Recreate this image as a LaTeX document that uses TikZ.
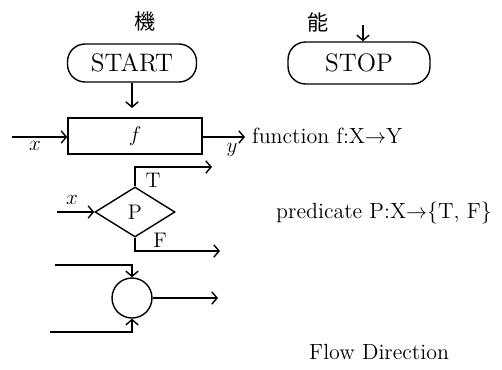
\documentclass[tikz,border=0pt]{standalone}
\usepackage{fontspec}
\usetikzlibrary{arrows.meta,positioning,shapes.geometric}
\newfontfamily\cjk{Noto Sans CJK JP}
\tikzset{term/.style={draw,thick,rounded corners=10pt,minimum height=0.76cm,font=\Large},
fbox/.style={draw,thick,minimum width=2.68cm,minimum height=0.72cm},
arr/.style={thick,->,>={Straight Barb[length=3pt,width=7pt]}},
lbl/.style={font=\large},
txt/.style={anchor=west,font=\fontsize{12.5}{14}\selectfont}}
\begin{document}
\begin{tikzpicture}[x=0.02cm,y=-0.02cm]
\useasboundingbox(0,0)rectangle(502,369);
\node[font=\cjk\large](ki)at(145,22){機};\node[font=\cjk\large](no)at(318,22){能};
% terminals
\node[term,minimum width=2.58cm](start)at(132,63){START};
\node[term,minimum width=2.84cm,minimum height=0.84cm](stop)at(359,63){STOP};
\coordinate(sdown)at(132,108);\coordinate(sin)at(363,25);
\draw[arr](start)--(sdown);\draw[arr](sin)--(sin|-stop.north);
% function box
\node[fbox,lbl](f)at(135,136){$f$};
\coordinate(fin)at(12,137);\coordinate(fout)at(245,137);
\draw[arr](fin)--(fin-|f.west);\draw[arr](fout-|f.east)--(fout);
\node[lbl](fx)at(35,146){$x$};\node[lbl](fy)at(232,150){$y$};
% predicate
\node[draw,thick,diamond,inner sep=0pt,minimum width=1.6cm,minimum height=1cm,lbl](p)at(135,212){P};
\coordinate(pin)at(57,212);\coordinate(pt)at(212,167);\coordinate(pf)at(220,251);
\draw[arr](pin)--(p.west);\draw[arr](p.north)|-(pt);\draw[arr](p.south)|-(pf);
\node[lbl](px)at(72,200){$x$};\node[lbl](lt)at(153,180){T};\node[lbl](lf)at(160,240){F};
% junction
\node[draw,thick,circle,minimum size=0.8cm](c)at(132,298){};
\coordinate(ca)at(55,265);\coordinate(cb)at(50,332);\coordinate(cout)at(218,298);
\draw[arr](ca)-|(c.north);\draw[arr](cb)-|(c.south);\draw[arr](c.east)--(cout);
% texts
\node[txt](tf)at(246,136){function f:X$\rightarrow$Y};
\node[txt](tp)at(270,213){predicate P:X$\rightarrow$\{T, F\}};
\node[txt](tdir)at(303,352){Flow Direction};
\end{tikzpicture}
\end{document}
